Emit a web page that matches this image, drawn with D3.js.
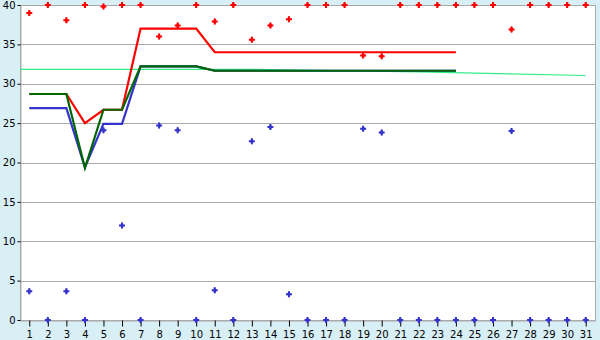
<!DOCTYPE html>
<html>
<head>
<meta charset="utf-8">
<script src="https://cdn.jsdelivr.net/npm/d3@7"></script>
<style>
  body { margin: 0; }
  text { font-family: "DejaVu Sans", sans-serif; font-size: 10px; fill: #000; }
</style>
</head>
<body>
<div id="chart"></div>
<script>
// data
const days = d3.range(1, 32);

const redPoints = [39, 40, 38.05, 40, 39.8, 40, 40, 36, 37.4, 40, 37.9, 40, 35.6, 37.4, 38.2,
  40, 40, 40, 33.6, 33.5, 40, 40, 40, 40, 40, 40, 36.9, 40, 40, 40, 40];

const bluePoints = [3.64, 0, 3.64, 0, 24.1, 12, 0, 24.7, 24.1, 0, 3.77, 0, 22.7, 24.5, 3.26,
  0, 0, 0, 24.3, 23.8, 0, 0, 0, 0, 0, 0, 24, 0, 0, 0, 0];

// lines only run to day 24
const redLine = [28.7, 28.7, 28.7, 25, 26.7, 26.7, 37, 37, 37, 37, 34, 34, 34, 34, 34, 34,
  34, 34, 34, 34, 34, 34, 34, 34];
const blueLine = [26.9, 26.9, 26.9, 19.4, 24.9, 24.9, 32.2, 32.2, 32.2, 32.2, 31.65, 31.65,
  31.65, 31.65, 31.65, 31.65, 31.65, 31.65, 31.65, 31.65, 31.65, 31.65, 31.65, 31.65];
const greenLine = [28.7, 28.7, 28.7, 19.3, 26.7, 26.7, 32.2, 32.2, 32.2, 32.2, 31.65, 31.65,
  31.65, 31.65, 31.65, 31.65, 31.65, 31.65, 31.65, 31.65, 31.65, 31.65, 31.65, 31.65];

// thin trend line
const trendDays = [0.5, 13, 22, 31];
const trendVals = [31.83, 31.83, 31.5, 31.05];

const yTicks = [0, 5, 10, 15, 20, 25, 30, 35, 40];

//chart set up
const svgWidth = 600;
const svgHeight = 340;
const plot = { left: 20, right: 595, top: 5, bottom: 320 };

const svg = d3.select("#chart")
  .append("svg")
  .attr("width", svgWidth)
  .attr("height", svgHeight);

svg.append("rect")
  .attr("width", svgWidth)
  .attr("height", svgHeight)
  .attr("fill", "#d9eff6");

svg.append("rect")
  .attr("x", plot.left)
  .attr("y", plot.top)
  .attr("width", plot.right - plot.left)
  .attr("height", plot.bottom - plot.top)
  .attr("fill", "#fff")
  .attr("stroke", "#aaa")
  .attr("shape-rendering", "crispEdges");

const x = d3.scaleLinear().domain([0.5, 31.5]).range([plot.left, plot.right]);
const y = d3.scaleLinear().domain([0, 40]).range([plot.bottom, plot.top]);

// grid lines
svg.append("g")
  .selectAll("line")
  .data(yTicks)
  .enter()
  .append("line")
  .attr("x1", plot.left)
  .attr("x2", plot.right)
  .attr("y1", d => Math.round(y(d)) + 0.5)
  .attr("y2", d => Math.round(y(d)) + 0.5)
  .attr("stroke", "#aaa");

// axes
const xAxis = svg.append("g")
  .attr("transform", `translate(0, ${plot.bottom + 0.5})`)
  .call(d3.axisBottom(x).tickValues(days).tickFormat(d3.format("d")).tickSize(6).tickSizeOuter(0).tickPadding(4));

const yAxis = svg.append("g")
  .attr("transform", `translate(${plot.left + 0.5}, 0)`)
  .call(d3.axisLeft(y).tickValues(yTicks).tickSize(3).tickSizeOuter(0).tickPadding(2));

[xAxis, yAxis].forEach(a => {
  a.select(".domain").attr("stroke", "#aaa");
  a.selectAll(".tick line").attr("stroke", "#000");
  a.selectAll("text").attr("font-family", null).attr("font-size", null);
});

const line = d3.line()
  .x(d => x(d[0]))
  .y(d => y(d[1]));

// trend first, then the three lines
svg.append("path")
  .datum(trendDays.map((d, i) => [d, trendVals[i]]))
  .attr("d", line)
  .attr("fill", "none")
  .attr("stroke", "#33ee88")
  .attr("stroke-width", 1.2);

const series = [
  { vals: redLine, color: "#ff0000" },
  { vals: blueLine, color: "#3434cc" },
  { vals: greenLine, color: "#006600" }
];

series.forEach(s => {
  svg.append("path")
    .datum(s.vals.map((v, i) => [days[i], v]))
    .attr("d", line)
    .attr("fill", "none")
    .attr("stroke", s.color)
    .attr("stroke-width", 2.2);
});

// points: a plus with a filled middle
const cross = d3.symbol().type(d3.symbolCross).size(20);
const dot = d3.symbol().type(d3.symbolDiamond).size(12);

function drawPoints(vals, color) {
  const g = svg.append("g")
    .selectAll("g")
    .data(vals)
    .enter()
    .append("g")
    .attr("transform", (d, i) => `translate(${x(days[i])}, ${y(d)})`)
    .attr("fill", color);
  g.append("path").attr("d", cross);
  g.append("path").attr("d", dot);
}

drawPoints(redPoints, "#ff0000");
drawPoints(bluePoints, "#3434cc");
</script>
</body>
</html>
